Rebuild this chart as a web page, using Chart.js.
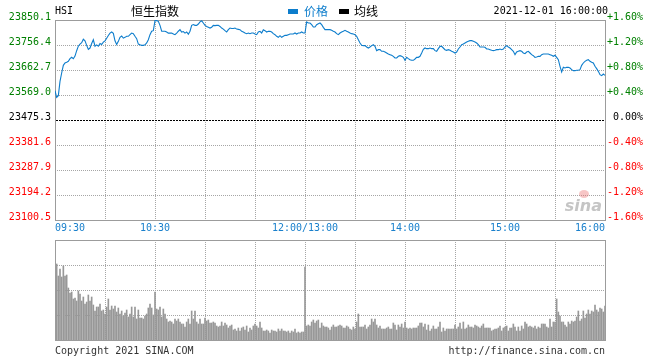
<!DOCTYPE html>
<html>
<head>
<meta charset="utf-8">
<script src="https://cdn.jsdelivr.net/npm/chart.js@4/dist/chart.umd.min.js"></script>
<style>
  html,body{margin:0;padding:0;background:#fff;}
  #wrap{position:relative;width:660px;height:360px;overflow:hidden;}
  #c1{position:absolute;left:0;top:0;}
  #c2{position:absolute;left:0;top:235px;}
</style>
</head>
<body>
<div id="wrap">
  <canvas id="c1" width="660" height="235"></canvas>
  <canvas id="c2" width="660" height="125"></canvas>
</div>
<script>
// ---------------- DATA ----------------
const symbol = 'HSI';
const indexName = '恒生指数';
const legendNames = ['价格', '均线'];
const stampText = '2021-12-01 16:00:00';
const prevClose = 23475.3;

// price ticks (left) and percent ticks (right)
const priceTicks = [23100.5, 23194.2, 23287.9, 23381.6, 23475.3, 23569.0, 23662.7, 23756.4, 23850.1];
const pctTicks = [-1.6, -1.2, -0.8, -0.4, 0, 0.4, 0.8, 1.2, 1.6];

// time axis: minutes since 09:30 (12:00 and 13:00 share minute 150)
const gridMinutes = [0, 30, 60, 90, 120, 150, 180, 210, 240, 270, 300, 330];
const timeLabelMinutes = [0, 60, 150, 210, 270, 330];
const timeLabels = ['09:30', '10:30', '12:00/13:00', '14:00', '15:00', '16:00'];

// one price per minute, 09:30 .. 16:00 (331 points)
const prices = [
  23585.3, 23560.3, 23566.5, 23620.2, 23651.5, 23680.2, 23689.0, 23692.0, 23695.2, 23705.2,
  23710.2, 23705.0, 23715.0, 23735.0, 23752.0, 23760.0, 23765.0, 23778.0, 23772.0, 23755.0,
  23740.0, 23745.0, 23762.0, 23776.0, 23752.0, 23757.0, 23752.0, 23762.0, 23758.0, 23767.0,
  23772.0, 23782.0, 23792.0, 23801.0, 23805.0, 23800.0, 23772.0, 23758.0, 23770.0, 23785.0,
  23790.0, 23782.0, 23785.0, 23789.0, 23789.0, 23795.0, 23801.0, 23799.0, 23789.0, 23780.0,
  23760.0, 23757.0, 23755.0, 23755.0, 23757.0, 23764.0, 23776.0, 23795.0, 23808.0, 23810.0,
  23847.6, 23847.6, 23845.0, 23830.0, 23808.0, 23808.0, 23808.0, 23805.0, 23801.0, 23801.0,
  23801.0, 23798.0, 23795.0, 23801.0, 23808.0, 23814.0, 23805.0, 23807.0, 23801.0, 23805.0,
  23797.0, 23808.0, 23830.0, 23833.0, 23830.0, 23830.0, 23835.0, 23843.0, 23847.0, 23839.0,
  23830.0, 23826.0, 23823.0, 23820.0, 23823.0, 23830.0, 23829.0, 23830.0, 23830.0, 23826.0,
  23820.0, 23816.0, 23810.0, 23805.0, 23814.0, 23820.0, 23818.0, 23818.0, 23820.0, 23816.0,
  23815.0,
  23813.9, 23807.6, 23805.1, 23801.4, 23798.9, 23801.4, 23798.9, 23801.4, 23801.4, 23797.6,
  23795.1, 23805.1, 23807.6, 23801.4, 23813.9, 23810.1, 23805.1, 23807.6, 23807.6, 23805.1,
  23798.9, 23795.1, 23788.9, 23785.1, 23791.4, 23785.1, 23788.9, 23792.6, 23792.6, 23795.1,
  23797.6, 23797.6, 23797.6, 23801.4, 23797.6, 23801.4, 23801.4, 23805.1, 23801.4, 23801.4,
  23842.6, 23838.9, 23838.9, 23832.6, 23823.9, 23823.9, 23832.6, 23836.4, 23838.9, 23832.6,
  23822.6, 23813.9, 23813.9, 23813.9, 23813.9, 23811.4, 23807.6, 23805.1, 23798.9, 23795.1,
  23801.4, 23805.1, 23807.6, 23811.4, 23807.6, 23805.1, 23801.4, 23798.9, 23797.6, 23795.1,
  23788.9, 23776.4, 23763.9, 23755.2, 23753.9, 23753.9, 23748.9, 23745.2, 23748.9, 23753.9,
  23757.7, 23751.4, 23735.2, 23738.9, 23738.9, 23732.7, 23732.7, 23730.2, 23726.4, 23722.7,
  23720.2, 23717.7, 23713.9, 23707.7, 23707.7, 23713.9, 23716.4, 23713.9, 23710.2, 23699.0,
  23710.2, 23705.2, 23701.4, 23699.0, 23699.0, 23703.9, 23710.2, 23710.2, 23713.9, 23726.4,
  23740.0, 23745.2, 23742.7, 23742.7, 23745.2, 23742.7, 23742.7, 23735.2, 23732.7, 23742.7,
  23751.4, 23751.4, 23745.2, 23738.9, 23736.4, 23738.9, 23736.4, 23732.7, 23730.2, 23726.4,
  23730.2, 23741.4, 23748.9, 23757.7, 23760.2, 23763.9, 23767.7, 23770.2, 23772.7, 23772.7,
  23770.2, 23767.7, 23763.9, 23757.7, 23748.9, 23748.9, 23748.9, 23747.7, 23741.4, 23741.4,
  23738.9, 23736.4, 23735.2, 23736.4, 23738.9, 23738.9, 23741.4, 23738.9, 23741.4, 23748.9,
  23753.9, 23748.9, 23745.2, 23738.9, 23732.7, 23720.2, 23730.2, 23732.7, 23735.2, 23732.7,
  23726.4, 23723.9, 23730.2, 23732.7, 23726.4, 23720.2, 23716.4, 23710.2, 23711.4, 23713.9,
  23713.9, 23720.2, 23722.7, 23722.7, 23722.7, 23722.7, 23720.2, 23717.7, 23713.9, 23717.7,
  23710.2, 23701.4, 23676.5, 23655.2, 23672.7, 23670.2, 23672.7, 23672.7, 23670.2, 23664.0,
  23660.2, 23660.2, 23661.5, 23661.5, 23664.0, 23680.2, 23689.0, 23695.2, 23699.0, 23701.4,
  23695.2, 23691.5, 23689.0, 23676.5, 23667.7, 23657.7, 23645.2, 23641.5, 23647.7, 23642.7
];

// volume per minute, minutes 1 .. 330 (relative units, 100 = top of panel)
const volume = [
  76,64,71,63,74,64,65,52,47,48,
  41,42,39,49,46,39,43,36,38,45,
  39,43,35,29,33,33,36,29,30,26,
  33,41,30,34,31,34,28,32,26,29,
  24,27,30,23,26,33,23,33,21,30,
  22,22,21,24,26,32,36,32,25,48,
  31,30,33,23,31,26,21,18,19,18,
  16,21,19,21,18,16,16,13,18,21,
  16,29,21,29,18,16,21,16,16,22,
  19,20,17,17,18,17,14,13,14,18,
  14,17,15,12,14,15,10,11,9,12,
  9,12,13,10,14,8,12,10,14,16,
  14,12,18,12,9,9,10,9,7,10,
  9,9,8,11,9,11,9,9,8,9,
  7,9,8,11,7,8,7,8,8,73,
  14,15,14,18,20,17,19,20,12,17,
  14,13,13,12,10,13,15,13,13,14,
  15,14,12,12,14,13,11,10,13,11,
  18,26,13,13,13,15,11,13,15,21,
  18,21,15,12,14,11,11,11,12,13,
  11,11,17,15,10,15,13,16,12,18,
  12,11,12,11,12,12,12,14,17,17,
  13,16,10,15,9,11,14,11,11,13,
  18,8,12,9,11,11,11,11,11,15,
  11,13,17,11,18,11,12,15,13,13,
  12,15,14,13,12,14,16,12,12,12,
  12,9,10,11,11,12,14,9,12,13,
  14,9,12,12,16,13,9,13,9,14,
  11,18,16,13,14,13,12,14,11,13,
  12,16,16,16,13,12,21,13,18,18,
  41,28,24,18,18,15,13,18,16,19,
  18,19,23,29,19,21,29,22,26,30,
  26,29,28,35,30,28,32,31,28,34
];
const volTicks = [0, 25, 50, 75, 100];
const footerLeft = 'Copyright 2021 SINA.COM';
const footerRight = 'http://finance.sina.com.cn';

// ---------------- STYLE ----------------
const MONO = '"DejaVu Sans Mono", "Liberation Mono", monospace';
const CJK = '"Noto Sans CJK SC", "Noto Sans", sans-serif';
const LINE_BLUE = '#0d7dcc';
const TIME_BLUE = '#1a80cc';
const GRID = '#a6a6a6';
const FRAME = '#9c9c9c';
const UP = '#008000';
const DOWN = '#ff0000';

Chart.defaults.font.family = MONO;
Chart.defaults.font.size = 10;
Chart.defaults.color = '#000';

const priceMinutes = prices.map((_, i) => i);
const volMinutes = volume.map((_, i) => i + 1);

function setTicks(list) {
  return function (scale) { scale.ticks = list.map(v => ({ value: v })); };
}
function fixW(w) { return function (s) { s.width = w; }; }
function fixH(h) { return function (s) { s.height = h; }; }
function pctLabel(v) {
  if (Math.abs(v) < 1e-9) return '0.00%';
  return (v > 0 ? '+' : '') + v.toFixed(2) + '%';
}
function colorFor(v, base) {
  if (Math.abs(v - base) < 1e-6) return '#000';
  return v > base ? UP : DOWN;
}

// dotted grid drawn at the scales' own tick positions
function drawDots(chart, skipValue) {
  const { ctx, chartArea: a, scales } = chart;
  const L = Math.round(a.left), R = Math.round(a.right), T = Math.round(a.top), B = Math.round(a.bottom);
  ctx.save();
  ctx.fillStyle = GRID;
  scales.y.ticks.forEach(t => {
    if (skipValue !== undefined && Math.abs(t.value - skipValue) < 1e-6) return;
    const y = Math.round(scales.y.getPixelForValue(t.value));
    if (y <= T || y >= B) return;
    for (let x = L + 2; x < R; x += 2) ctx.fillRect(x, y, 1, 1);
  });
  scales.x.ticks.forEach(t => {
    const x = Math.round(scales.x.getPixelForValue(t.value));
    if (x <= L || x >= R) return;
    for (let y = T + 2; y < B; y += 2) ctx.fillRect(x, y, 1, 1);
  });
  ctx.restore();
}
function drawFrame(chart) {
  const { ctx, chartArea: a } = chart;
  ctx.save();
  ctx.strokeStyle = FRAME;
  ctx.lineWidth = 1;
  ctx.strokeRect(Math.round(a.left) + 0.5, Math.round(a.top) + 0.5,
    Math.round(a.right - a.left), Math.round(a.bottom - a.top));
  ctx.restore();
}

const priceDecor = {
  id: 'priceDecor',
  beforeDatasetsDraw(chart) {
    const { ctx, chartArea: a, scales } = chart;
    drawDots(chart, prevClose);
    // previous-close dashed line
    const y = Math.round(scales.y.getPixelForValue(prevClose));
    ctx.save();
    ctx.fillStyle = '#000';
    for (let x = Math.round(a.left) + 1; x < Math.round(a.right); x += 3) ctx.fillRect(x, y, 2, 1);
    // watermark
    ctx.fillStyle = 'rgba(235,110,110,0.40)';
    ctx.beginPath();
    ctx.ellipse(a.right - 21, a.bottom - 26, 5, 4, 0, 0, Math.PI * 2);
    ctx.fill();
    ctx.fillStyle = 'rgba(140,140,140,0.5)';
    ctx.font = 'italic bold 16px "DejaVu Sans", sans-serif';
    ctx.textAlign = 'right';
    ctx.textBaseline = 'alphabetic';
    ctx.fillText('sina', a.right - 3, a.bottom - 9);
    ctx.restore();
    drawFrame(chart);
  },
  afterDraw(chart) {
    const { ctx, chartArea: a, scales } = chart;
    ctx.save();
    // time labels under the axis
    ctx.font = '10px ' + MONO;
    ctx.fillStyle = TIME_BLUE;
    ctx.textBaseline = 'middle';
    timeLabelMinutes.forEach((m, i) => {
      const x = scales.x.getPixelForValue(m);
      ctx.textAlign = i === 0 ? 'left' : (i === timeLabelMinutes.length - 1 ? 'right' : 'center');
      ctx.fillText(timeLabels[i], x, a.bottom + 8);
    });
    // header
    const hy = 11;
    ctx.fillStyle = '#000';
    ctx.textAlign = 'left';
    ctx.fillText(symbol, a.left, hy);
    ctx.font = '12px ' + CJK;
    ctx.fillText(indexName, 131, hy);
    // legend
    ctx.fillStyle = LINE_BLUE;
    ctx.fillRect(288, 9, 10, 5);
    ctx.fillText(legendNames[0], 304, hy);
    ctx.fillStyle = '#000';
    ctx.fillRect(339, 9, 10, 5);
    ctx.fillText(legendNames[1], 354, hy);
    // time stamp
    ctx.font = '10px ' + MONO;
    ctx.textAlign = 'right';
    ctx.fillText(stampText, a.right + 3, hy);
    ctx.restore();
  }
};

const volDecor = {
  id: 'volDecor',
  beforeDatasetsDraw(chart) {
    drawDots(chart);
  },
  afterDraw(chart) {
    const { ctx, chartArea: a } = chart;
    drawFrame(chart);
    ctx.save();
    ctx.font = '10px ' + MONO;
    ctx.fillStyle = '#333';
    ctx.textBaseline = 'middle';
    ctx.textAlign = 'left';
    ctx.fillText(footerLeft, a.left, a.bottom + 11);
    ctx.textAlign = 'right';
    ctx.fillText(footerRight, a.right, a.bottom + 11);
    ctx.restore();
  }
};

// ---------------- PRICE CHART ----------------
new Chart(document.getElementById('c1'), {
  type: 'line',
  data: {
    labels: priceMinutes,
    datasets: [{
      label: legendNames[0],
      data: prices,
      borderColor: LINE_BLUE,
      borderWidth: 1.1,
      pointRadius: 0,
      tension: 0,
      fill: false,
      yAxisID: 'y'
    }]
  },
  options: {
    responsive: false,
    animation: false,
    devicePixelRatio: 1,
    layout: { padding: { top: 20, left: 0, right: 17, bottom: 0 } },
    plugins: { legend: { display: false }, tooltip: { enabled: false }, title: { display: false } },
    scales: {
      x: {
        type: 'linear', min: 0, max: 330,
        afterBuildTicks: setTicks(gridMinutes),
        afterFit: fixH(15),
        ticks: { display: false },
        grid: { display: false, drawTicks: false },
        border: { display: false }
      },
      y: {
        position: 'left',
        min: priceTicks[0], max: priceTicks[priceTicks.length - 1],
        afterBuildTicks: setTicks(priceTicks),
        afterFit: fixW(55),
        ticks: {
          autoSkip: false, padding: 4, labelOffset: -3,
          callback: v => Number(v).toFixed(1),
          color: c => colorFor(c.tick.value, prevClose)
        },
        grid: { display: false, drawTicks: false },
        border: { display: false }
      },
      y2: {
        position: 'right',
        min: pctTicks[0], max: pctTicks[pctTicks.length - 1],
        afterBuildTicks: setTicks(pctTicks),
        afterFit: fixW(38),
        ticks: {
          autoSkip: false, padding: 2, labelOffset: -3, crossAlign: 'far',
          callback: v => pctLabel(Number(v)),
          color: c => colorFor(c.tick.value, 0)
        },
        grid: { display: false, drawTicks: false },
        border: { display: false }
      }
    }
  },
  plugins: [priceDecor]
});

// ---------------- VOLUME CHART ----------------
new Chart(document.getElementById('c2'), {
  type: 'bar',
  data: {
    labels: volMinutes,
    datasets: [{
      label: 'volume',
      data: volume,
      backgroundColor: '#989898',
      borderWidth: 0,
      barThickness: 1,
      yAxisID: 'y'
    }]
  },
  options: {
    responsive: false,
    animation: false,
    devicePixelRatio: 1,
    layout: { padding: { top: 5, left: 55, right: 55, bottom: 0 } },
    plugins: { legend: { display: false }, tooltip: { enabled: false } },
    scales: {
      x: {
        type: 'linear', min: 0, max: 330, offset: false,
        afterBuildTicks: setTicks(gridMinutes),
        afterFit: fixH(20),
        ticks: { display: false },
        grid: { display: false, drawTicks: false },
        border: { display: false }
      },
      y: {
        min: 0, max: 100,
        afterBuildTicks: setTicks(volTicks),
        afterFit: fixW(0),
        ticks: { display: false },
        grid: { display: false, drawTicks: false },
        border: { display: false }
      }
    }
  },
  plugins: [volDecor]
});
</script>
</body>
</html>
